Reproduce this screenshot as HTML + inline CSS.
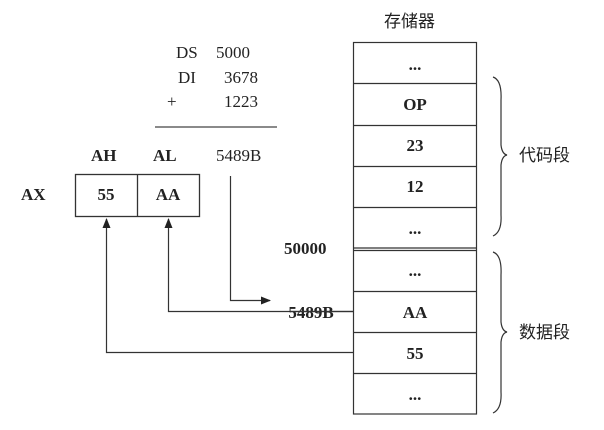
<!DOCTYPE html>
<html><head><meta charset="utf-8"><style>
html,body{margin:0;padding:0;background:#fff;width:604px;height:430px;overflow:hidden}
</style></head><body>
<svg width="604" height="430" viewBox="0 0 604 430" xmlns="http://www.w3.org/2000/svg" font-family="Liberation Serif, Noto Serif CJK SC, serif">
<defs><marker id="ah" markerWidth="10" markerHeight="8" refX="9" refY="4" orient="auto" markerUnits="userSpaceOnUse"><path d="M0,0 L10,4 L0,8 Z" fill="#222"/></marker></defs>
<g fill="#222" font-size="17">
<text x="176" y="58">DS</text><text x="216" y="58">5000</text>
<text x="178" y="83">DI</text><text x="224" y="83">3678</text>
<text x="167" y="107">+</text><text x="224" y="107">1223</text>
<text x="216" y="161">5489B</text>
</g>
<line x1="155" y1="127" x2="277" y2="127" stroke="#444" stroke-width="1.2"/>
<g fill="#222" font-size="17" font-weight="bold">
<text x="91" y="161">AH</text><text x="153" y="161">AL</text>
<text x="21" y="200">AX</text>
<text x="106" y="200" text-anchor="middle">55</text>
<text x="168" y="200" text-anchor="middle">AA</text>
<text x="284" y="254">50000</text>
</g>
<rect x="75.5" y="174.5" width="124" height="42" fill="none" stroke="#333" stroke-width="1.3"/>
<line x1="137.5" y1="174" x2="137.5" y2="217" stroke="#333" stroke-width="1.3"/>
<g fill="none" stroke="#333" stroke-width="1.2">
<rect x="353.5" y="42.5" width="123" height="371.5"/>
<line x1="353" y1="83.5" x2="477" y2="83.5"/>
<line x1="353" y1="125.5" x2="477" y2="125.5"/>
<line x1="353" y1="166.5" x2="477" y2="166.5"/>
<line x1="353" y1="207.5" x2="477" y2="207.5"/>
<line x1="353" y1="248" x2="477" y2="248"/>
<line x1="353" y1="250.5" x2="477" y2="250.5"/>
<line x1="353" y1="291.5" x2="477" y2="291.5"/>
<line x1="353" y1="332.5" x2="477" y2="332.5"/>
<line x1="353" y1="373.5" x2="477" y2="373.5"/>
<path d="M493,77 Q502,80 501,100 L501,145 Q502,154 507,155 Q502,156 501,165 L501,215 Q502,232 493,236"/>
<path d="M493,252 Q502,255 501,275 L501,322 Q502,331 507,332 Q502,333 501,342 L501,392 Q502,409 493,413"/>
<polyline points="230.5,176 230.5,300.5 270,300.5" marker-end="url(#ah)"/>
<polyline points="353,311.5 168.5,311.5 168.5,219" marker-end="url(#ah)"/>
<polyline points="353,352.5 106.5,352.5 106.5,219" marker-end="url(#ah)"/>
</g>
<g fill="#222" font-size="17" font-weight="bold" text-anchor="middle">
<text x="415" y="70">...</text>
<text x="415" y="110">OP</text>
<text x="415" y="151">23</text>
<text x="415" y="192">12</text>
<text x="415" y="234">...</text>
<text x="415" y="276">...</text>
<text x="415" y="318">AA</text>
<text x="415" y="359">55</text>
<text x="415" y="400">...</text>
<text x="311" y="318">5489B</text>
</g>
<line x1="290" y1="311.5" x2="353" y2="311.5" stroke="#333" stroke-width="1.2"/>
<g fill="#222" font-size="17" font-family="Noto Sans CJK SC, sans-serif">
<text x="384" y="27">存储器</text>
<text x="519" y="161">代码段</text>
<text x="519" y="338">数据段</text>
</g>
</svg>
</body></html>
